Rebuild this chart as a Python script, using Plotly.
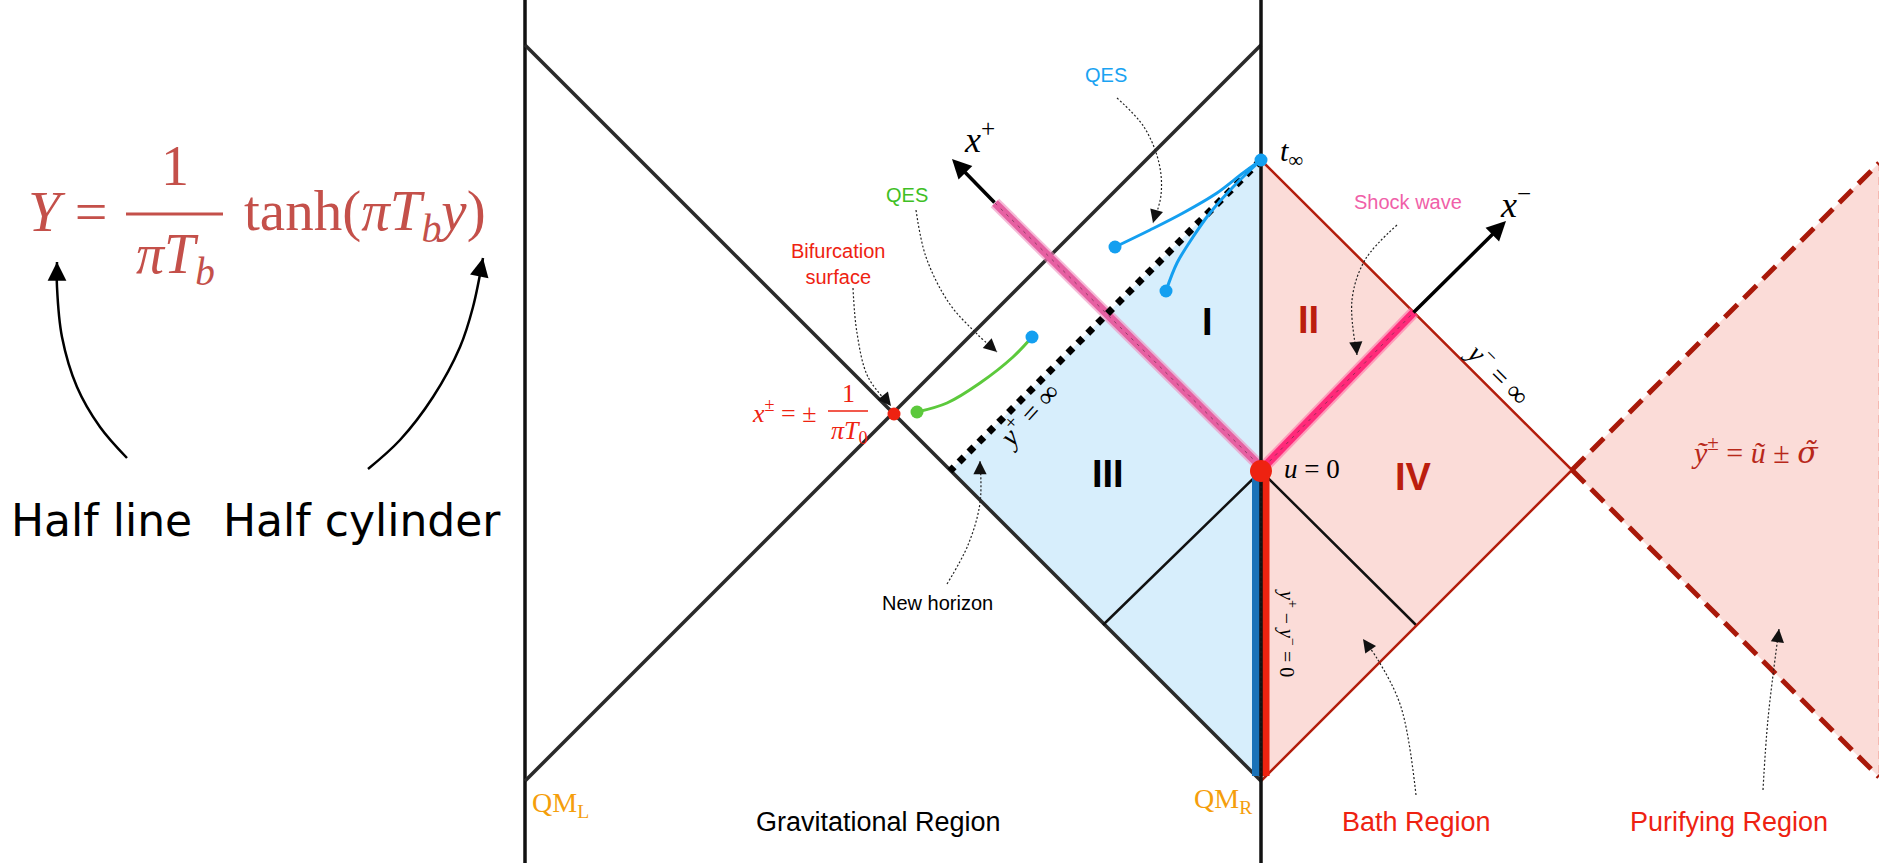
import plotly.graph_objects as go

W, H = 1879, 863

# ---- Penrose diagram geometry (pixel-space coordinates, y grows downward) ----
wall_left_x = [525, 525]
wall_right_x = [1261, 1261]
wall_y = [0, 863]

diag_a_x = [525, 1261]
diag_a_y = [45, 781]          # "\" null line
diag_b_x = [525, 1261]
diag_b_y = [781, 45]          # "/" null line

grav_fill_x = [1261, 950, 1261]
grav_fill_y = [160, 471, 781]
bath_fill_x = [1261, 1572, 1261]
bath_fill_y = [160, 470, 781]
purify_fill_x = [1572, 1879, 1879]
purify_fill_y = [470, 163, 777]

inner_x = [1103, 1261, 1416]
inner_y = [625, 471, 625]

horizon_x = [1261, 950]
horizon_y = [160, 471]

purify_up_x = [1572, 1879]
purify_up_y = [470, 163]
purify_dn_x = [1572, 1879]
purify_dn_y = [470, 777]

shock_in_x = [995, 1261]
shock_in_y = [203, 467]
shock_out_x = [1264, 1414]
shock_out_y = [467, 312]

bath_edge_x = [1261, 1572, 1261]
bath_edge_y = [160, 470, 781]

# quantum extremal surface curves
qes1_x = [1115, 1150, 1183, 1217, 1243, 1261]
qes1_y = [247, 230, 213, 193, 173, 160]
qes2_x = [1166, 1177, 1193, 1210, 1233, 1261]
qes2_y = [291, 263, 237, 213, 187, 160]
qes_green_x = [917, 947, 980, 1013, 1032]
qes_green_y = [412, 403, 383, 357, 337]

# thin dotted pointer arrows
ptr_blue = ([1117, 1144, 1159, 1161, 1153], [98, 127, 163, 195, 223])
ptr_green = ([916, 926, 949, 976, 997], [210, 257, 303, 333, 352])
ptr_bif = ([853, 857, 868, 891], [288, 333, 377, 406])
ptr_horizon = ([947, 968, 980, 980], [584, 545, 503, 461])
ptr_shock = ([1397, 1365, 1352, 1357], [225, 260, 300, 355])
ptr_bath = ([1416, 1401, 1378, 1363], [795, 707, 660, 639])
ptr_purify = ([1763, 1768, 1779], [790, 719, 629])

# solid arrows under the formula
arc_half_line = ([127, 100, 77, 62, 57, 57], [458, 427, 387, 337, 287, 262])
arc_half_cyl = ([368, 400, 433, 460, 473, 483], [469, 440, 397, 347, 307, 258])

fig = go.Figure()


def line(xs, ys, color, width, dash=None, shape="linear", opacity=1.0):
    fig.add_trace(go.Scatter(
        x=xs, y=ys, mode="lines", hoverinfo="skip", opacity=opacity,
        line=dict(color=color, width=width, dash=dash, shape=shape)))


def fill(xs, ys, color):
    fig.add_trace(go.Scatter(
        x=xs + [xs[0]], y=ys + [ys[0]], mode="lines", fill="toself",
        fillcolor=color, line=dict(width=0), hoverinfo="skip"))


def dots(xs, ys, color, size):
    fig.add_trace(go.Scatter(
        x=xs, y=ys, mode="markers", hoverinfo="skip",
        marker=dict(color=color, size=size, line=dict(width=0))))


def head(xs, ys, color, width, size, back=12):
    # arrowhead at the end of a curve, oriented along its last segment
    x1, y1 = xs[-1], ys[-1]
    x0, y0 = xs[-2], ys[-2]
    dx, dy = x1 - x0, y1 - y0
    n = (dx * dx + dy * dy) ** 0.5
    fig.add_annotation(x=x1, y=y1, ax=x1 - dx / n * back, ay=y1 - dy / n * back,
                       xref="x", yref="y", axref="x", ayref="y", text="",
                       font=dict(size=1), borderpad=0, standoff=0, startstandoff=0,
                       showarrow=True, arrowhead=2, arrowsize=size,
                       arrowwidth=width, arrowcolor=color)


def label(x, y, text, size, color="black", family="Liberation Sans",
          angle=0, weight="normal"):
    fig.add_annotation(x=x, y=y, xref="x", yref="y", text=text, showarrow=False,
                       textangle=angle,
                       font=dict(size=size, color=color, family=family, weight=weight))


# region fills
fill(grav_fill_x, grav_fill_y, "#d7eefc")
fill(bath_fill_x, bath_fill_y, "#fbdcd8")
fill(purify_fill_x, purify_fill_y, "#fbdcd8")

# boundaries and null lines
line(wall_left_x, wall_y, "#111111", 3.5)
line(diag_a_x, diag_a_y, "#2a2a2a", 3.5)
line(diag_b_x, diag_b_y, "#2a2a2a", 3.5)
line(inner_x, inner_y, "#111111", 2.5)
line(bath_edge_x, bath_edge_y, "#b31d0c", 2.5)
line([1879, 1879], [163, 777], "#f5b8b0", 2, dash="8px,6px")
line(purify_up_x, purify_up_y, "#a9190a", 5, dash="18px,9px")
line(purify_dn_x, purify_dn_y, "#a9190a", 5, dash="18px,9px")

# shock waves
line(shock_in_x, shock_in_y, "#f08cbc", 12, opacity=0.6)
line(shock_in_x, shock_in_y, "#e660a2", 8)
line(shock_in_x, shock_in_y, "#5a2a40", 1, dash="3px,5px", opacity=0.6)
line(shock_out_x, shock_out_y, "#ff6fa5", 12, opacity=0.6)
line(shock_out_x, shock_out_y, "#ff2a7a", 8)
line(shock_out_x, shock_out_y, "#5a2a40", 1, dash="3px,5px", opacity=0.6)

# boundary stripes along the right wall
line([1256, 1256], [471, 776], "#1a72b8", 8)
line([1265.5, 1265.5], [471, 776], "#ec2310", 8)
line(wall_right_x, wall_y, "#111111", 3.5)
line([1261, 1261], [471, 776], "#1a1a1a", 1.5, dash="2px,3px")

# horizon y+ = infinity
line(horizon_x, horizon_y, "#000000", 7, dash="7px,7px")

# QES curves
line(qes1_x, qes1_y, "#149ff0", 3, shape="spline")
line(qes2_x, qes2_y, "#149ff0", 3, shape="spline")
line(qes_green_x, qes_green_y, "#5cc93c", 3, shape="spline")

# pointer arrows
for px, py in [ptr_blue, ptr_green, ptr_bif, ptr_horizon, ptr_shock, ptr_bath, ptr_purify]:
    line(px, py, "#222222", 1.2, dash="2px,2px", shape="spline")
    head(px, py, "#111111", 1.2, 2.2, back=10)

# half line / half cylinder arcs
for px, py in [arc_half_line, arc_half_cyl]:
    line(px, py, "#000000", 2.5, shape="spline")
    head(px, py, "#000000", 2.5, 1.5, back=14)

# axis arrows x+ and x-
fig.add_annotation(x=952, y=159, ax=995, ay=203, xref="x", yref="y", axref="x", ayref="y",
                   text="", font=dict(size=1), borderpad=0, standoff=0, startstandoff=0,
                   showarrow=True, arrowhead=2, arrowsize=1.1, arrowwidth=3.5,
                   arrowcolor="#000000")
fig.add_annotation(x=1506, y=221, ax=1413, ay=313, xref="x", yref="y", axref="x", ayref="y",
                   text="", font=dict(size=1), borderpad=0, standoff=0, startstandoff=0,
                   showarrow=True, arrowhead=2, arrowsize=1.1, arrowwidth=3.5,
                   arrowcolor="#000000")

# points
dots([894], [414], "#ee2211", 13)
dots([1261], [471], "#ee2211", 22)
dots([1261, 1115, 1166, 1032], [160, 247, 291, 337], "#149ff0", 13)
dots([917], [412], "#5cc93c", 13)

SERIF = "Liberation Serif"
SANS = "Liberation Sans"

# formula
FC = "#c4504a"
label(67, 211, "<i>Y</i> =", 58, FC, SERIF)
label(175, 166, "1", 56, FC, SERIF)
fig.add_shape(type="line", x0=126, x1=223, y0=214, y1=214, xref="x", yref="y",
              line=dict(color=FC, width=3))
label(175, 258, "<i>πT</i><sub><i>b</i></sub>", 56, FC, SERIF)
label(365, 215, "tanh(<i>πT</i><sub><i>b</i></sub><i>y</i>)", 57, FC, SERIF)
label(101, 520, "Half line", 44, "black", "DejaVu Sans")
label(362, 520, "Half cylinder", 44, "black", "DejaVu Sans")

# diagram labels
label(1106, 75, "QES", 20, "#1aa3f2", SANS)
label(907, 195, "QES", 20, "#3fbf25", SANS)
label(838, 264, "Bifurcation<br>surface", 20, "#ee2211", SANS)
label(1408, 202, "Shock wave", 20, "#f060a8", SANS)
label(937, 603, "New horizon", 20, "black", SANS)

label(784, 411, "<i>x</i><sup>±</sup> = ±", 26, "#ee2211", SERIF)
label(848, 393, "1", 26, "#ee2211", SERIF)
fig.add_shape(type="line", x0=828, x1=868, y0=411, y1=411, xref="x", yref="y",
              line=dict(color="#ee2211", width=1.5))
label(849, 432, "<i>πT</i><sub>0</sub>", 26, "#ee2211", SERIF)

label(979, 137, "<i>x</i><sup>+</sup>", 36, "black", SERIF)
label(1515, 202, "<i>x</i><sup>−</sup>", 36, "black", SERIF)
label(1291, 153, "<i>t</i><sub>∞</sub>", 30, "black", SERIF)
label(1312, 469, "<i>u</i> = 0", 27, "black", SERIF)
label(1027, 414, "<i>y</i><sup>+</sup> = ∞", 28, "black", SERIF, angle=-48)
label(1499, 372, "<i>y</i><sup>−</sup> = ∞", 28, "black", SERIF, angle=45)
label(1288, 633, "<i>y</i><sup>+</sup> − <i>y</i><sup>−</sup> = 0", 20, "black", SERIF, angle=90)
label(1755, 450,
      "<i>ỹ</i><sup>±</sup> = <i>ũ</i> ± "
      "<span style=\"font-family:'DejaVu Serif'\"><i>σ̃</i></span>",
      30, "#b8281a", SERIF)

label(1207, 322, "I", 38, "black", SANS, weight="bold")
label(1308, 320, "II", 38, "#bb1e0e", SANS, weight="bold")
label(1108, 474, "III", 38, "black", SANS, weight="bold")
label(1413, 477, "IV", 38, "#bb1e0e", SANS, weight="bold")

label(560, 804, "QM<sub>L</sub>", 28, "#f59e0b", SERIF)
label(1223, 800, "QM<sub>R</sub>", 28, "#f59e0b", SERIF)
label(878, 822, "Gravitational Region", 27, "black", SANS)
label(1416, 822, "Bath Region", 27, "#ee2211", SANS)
label(1729, 822, "Purifying Region", 27, "#ee2211", SANS)

fig.update_layout(
    width=W, height=H, margin=dict(l=0, r=0, t=0, b=0),
    paper_bgcolor="white", plot_bgcolor="white", showlegend=False,
    xaxis=dict(range=[0, W], visible=False, fixedrange=True),
    yaxis=dict(range=[H, 0], visible=False, fixedrange=True),
)

fig.write_html("out.html")
